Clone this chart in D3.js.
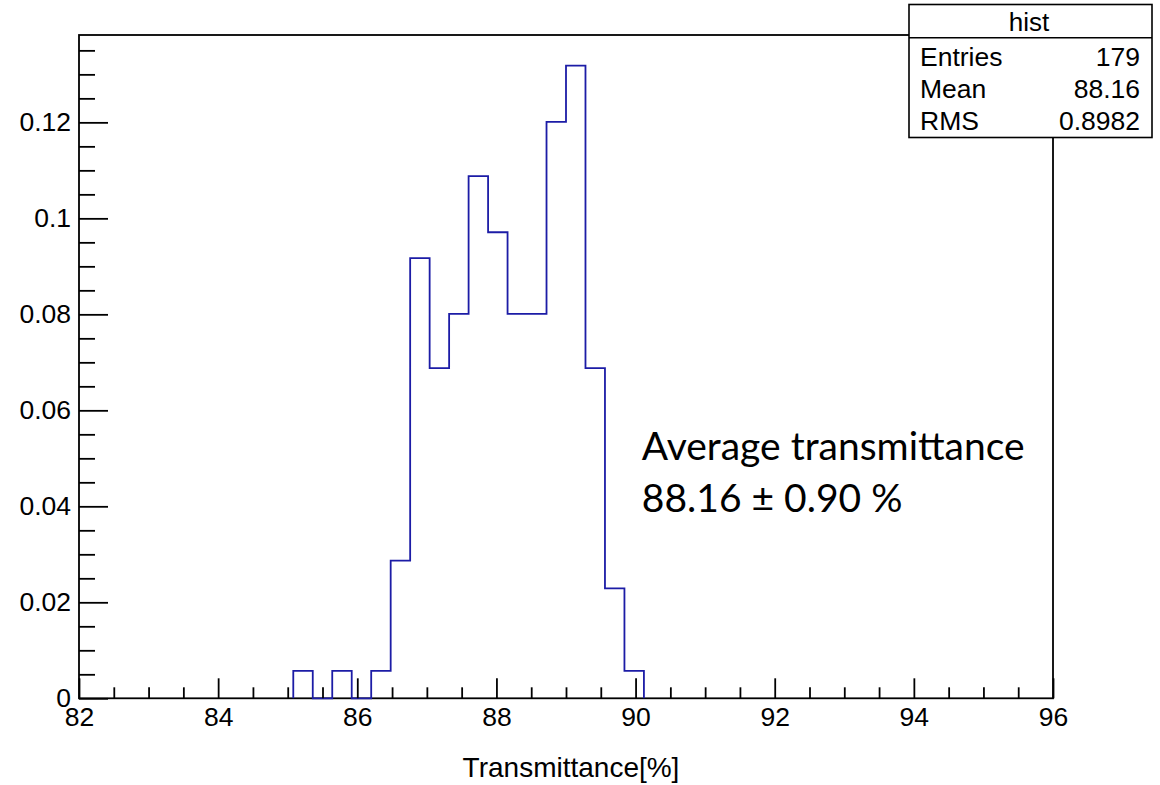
<!DOCTYPE html>
<html>
<head>
<meta charset="utf-8">
<script src="https://cdn.jsdelivr.net/npm/d3@7"></script>
<style>
body{margin:0;background:#fff}
text{font-family:"Liberation Sans",Arial,sans-serif;fill:#000}
</style>
</head>
<body>
<svg></svg>
<script>
// histogram bins (lower edges), fixed bin width 0.28
var binLow = [85.08,85.36,85.64,85.92,86.20,86.48,86.76,87.04,87.32,87.60,87.88,88.16,88.44,88.72,89.00,89.28,89.56,89.84]
var binWidth = 0.28
var density = [0.0057,0,0.0057,0,0.0057,0.0287,0.0917,0.0688,0.0801,0.1088,0.0971,0.0801,0.0801,0.1201,0.1318,0.0688,0.0229,0.0057]

var xTicks = [82,84,86,88,90,92,94,96]
var xMinor = [82.5,83,83.5,84.5,85,85.5,86.5,87,87.5,88.5,89,89.5,90.5,91,91.5,92.5,93,93.5,94.5,95,95.5]
var yTicks = [0,0.02,0.04,0.06,0.08,0.1,0.12]
var yMinor = [0.005,0.01,0.015,0.025,0.03,0.035,0.045,0.05,0.055,0.065,0.07,0.075,0.085,0.09,0.095,0.105,0.11,0.115,0.125,0.13,0.135]

var statNames = ["Entries","Mean","RMS"]
var statValues = ["179","88.16","0.8982"]

var svg = d3.select("svg")
svg.attr("width",1160).attr("height",785)

var x = d3.scaleLinear().domain([82,96]).range([79,1053])
var y = d3.scaleLinear().domain([0,0.1382]).range([698.3,35])

// frame
svg.append("rect")
  .attr("x",x(82)).attr("y",y(0.1382))
  .attr("width",x(96)-x(82)).attr("height",y(0)-y(0.1382))
  .attr("fill","none").attr("stroke","#000").attr("stroke-width",1.8)

// histogram outline
var pts = [[binLow[0],0]]
binLow.forEach((b,i)=>{
  pts.push([b,density[i]])
  pts.push([b+binWidth,density[i]])
})
pts.push([binLow[binLow.length-1]+binWidth,0])

var line = d3.line().x(d=>x(d[0])).y(d=>y(d[1]))
svg.append("path")
  .datum(pts)
  .attr("d",line)
  .attr("fill","none")
  .attr("stroke","#1c1ca6")
  .attr("stroke-width",1.8)

// x axis
var gx = svg.append("g").attr("transform","translate(0,"+y(0)+")")
gx.call(d3.axisBottom(x).tickValues(xTicks).tickSizeInner(-20).tickSizeOuter(0).tickPadding(9))
gx.append("g").call(d3.axisBottom(x).tickValues(xMinor).tickSizeInner(-11).tickSizeOuter(0).tickFormat(""))

// y axis
var gy = svg.append("g").attr("transform","translate("+x(82)+",0)")
gy.call(d3.axisLeft(y).tickValues(yTicks).tickSizeInner(-29).tickSizeOuter(0).tickPadding(8).tickFormat(d3.format("~g")))
gy.append("g").call(d3.axisLeft(y).tickValues(yMinor).tickSizeInner(-16).tickSizeOuter(0).tickFormat(""))

svg.selectAll(".domain").remove()
svg.selectAll(".tick line").attr("stroke","#000").attr("stroke-width",1.8)
svg.selectAll(".tick text").style("font-size","26.5px").style("font-family","'Liberation Sans',Arial,sans-serif")

// axis title
svg.append("text")
  .attr("x",571).attr("y",777)
  .attr("text-anchor","middle")
  .style("font-size","28px")
  .text("Transmittance[%]")

// stats box
var box = svg.append("g")
box.append("rect")
  .attr("x",909).attr("y",4.5).attr("width",243).attr("height",133)
  .attr("fill","#fff").attr("stroke","#000").attr("stroke-width",1.6)
box.append("line")
  .attr("x1",909).attr("x2",1152).attr("y1",37.7).attr("y2",37.7)
  .attr("stroke","#000").attr("stroke-width",1.6)
box.append("text")
  .attr("x",1029).attr("y",30.5).attr("text-anchor","middle")
  .style("font-size","26px").text("hist")
statNames.forEach((s,i)=>{
  box.append("text").attr("x",920).attr("y",65.5+i*32).style("font-size","26.5px").text(s)
  box.append("text").attr("x",1140).attr("y",65.5+i*32).attr("text-anchor","end").style("font-size","26.5px").text(statValues[i])
})

// annotation
var note = svg.append("text")
  .attr("x",x(90.09)).attr("y",y(0.0497))
  .style("font-family","Lato,'Open Sans',sans-serif")
  .style("font-size","39px")
note.append("tspan").attr("x",x(90.09)).text("Average transmittance")
note.append("tspan").attr("x",x(90.09)).attr("dy",52.5).text("88.16 ± 0.90 %")
</script>
</body>
</html>
